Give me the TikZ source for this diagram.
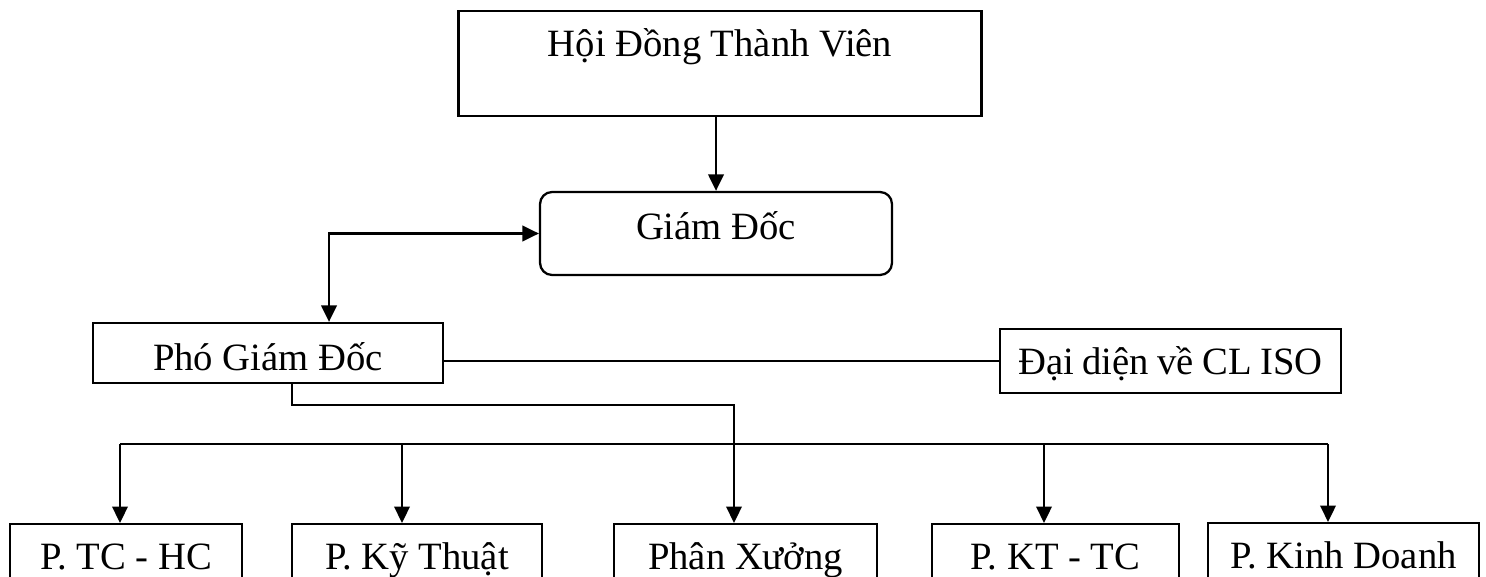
\documentclass[tikz,border=0pt]{standalone}
\usepackage{fontspec}
\setmainfont{Liberation Serif}
\usetikzlibrary{arrows.meta,calc}

\tikzset{
  >={Triangle[length=0.33cm,width=0.31cm]},
  box/.style={draw, inner sep=0pt, font=\fontsize{22}{26}\selectfont,
    text depth=5pt, text height=#1},
  box/.default=16.4pt
}

\begin{document}
\begin{tikzpicture}[x=0.02cm,y=-0.02cm,line width=1.3pt]
\clip (0,0) rectangle (1486,577);
% top levels
\node[box=16pt, text depth=23.4pt, minimum width=10.46cm, minimum height=2.1cm] (hdtv) at (720,63.5) {Hội Đồng Thành Viên};
\node[box=12.4pt, rounded corners=0.24cm, minimum width=7.04cm, minimum height=1.66cm] (gd) at (716,233.5) {Giám Đốc};
\node[box=24.4pt, minimum width=7cm, minimum height=1.2cm] (pgd) at (268,353) {Phó Giám Đốc};
\node[box=19.8pt, minimum width=6.82cm, minimum height=1.28cm] (dd) at (1170.5,361) {Đại\hspace{0.22em}diện\hspace{0.22em}về\hspace{0.22em}CL\hspace{0.22em}ISO};
% departments
\node[box, anchor=north, minimum width=4.64cm, minimum height=1.4cm] (tchc) at (126,523) {P. TC - HC};
\node[box, anchor=north, minimum width=5cm, minimum height=1.4cm] (kt) at (417,523) {P. Kỹ Thuật};
\node[box, anchor=north, minimum width=5.26cm, minimum height=1.4cm] (px) at (745.5,523) {Phân Xưởng};
\node[box, anchor=north, minimum width=4.94cm, minimum height=1.4cm] (kttc) at (1055.5,523) {P. KT - TC};
\node[box, anchor=north, minimum width=5.42cm, minimum height=1.4cm] (kd) at (1343.5,522) {P. Kinh Doanh};

% connectors
\draw[->] (gd.north |- hdtv.south) -- (gd.north);
\draw[<->] ($(pgd.north)+(61,0)$) |- (gd.west);
\draw (pgd.east |- dd.west) -- (dd.west);
\draw[->] ($(pgd.south)+(24,0)$) -- ++(0,21) -| ($(px.north)+(-11.5,0)$);

\coordinate (b1) at (120,444);
\coordinate (b2) at (402,444);
\coordinate (b4) at (1044,444);
\coordinate (b5) at (1328,444);
\draw (b1) -- (b5);
\foreach \b/\n in {b1/tchc,b2/kt,b4/kttc,b5/kd}
  \draw[->] (\b) -- (\b |- \n.north);
\end{tikzpicture}
\end{document}
